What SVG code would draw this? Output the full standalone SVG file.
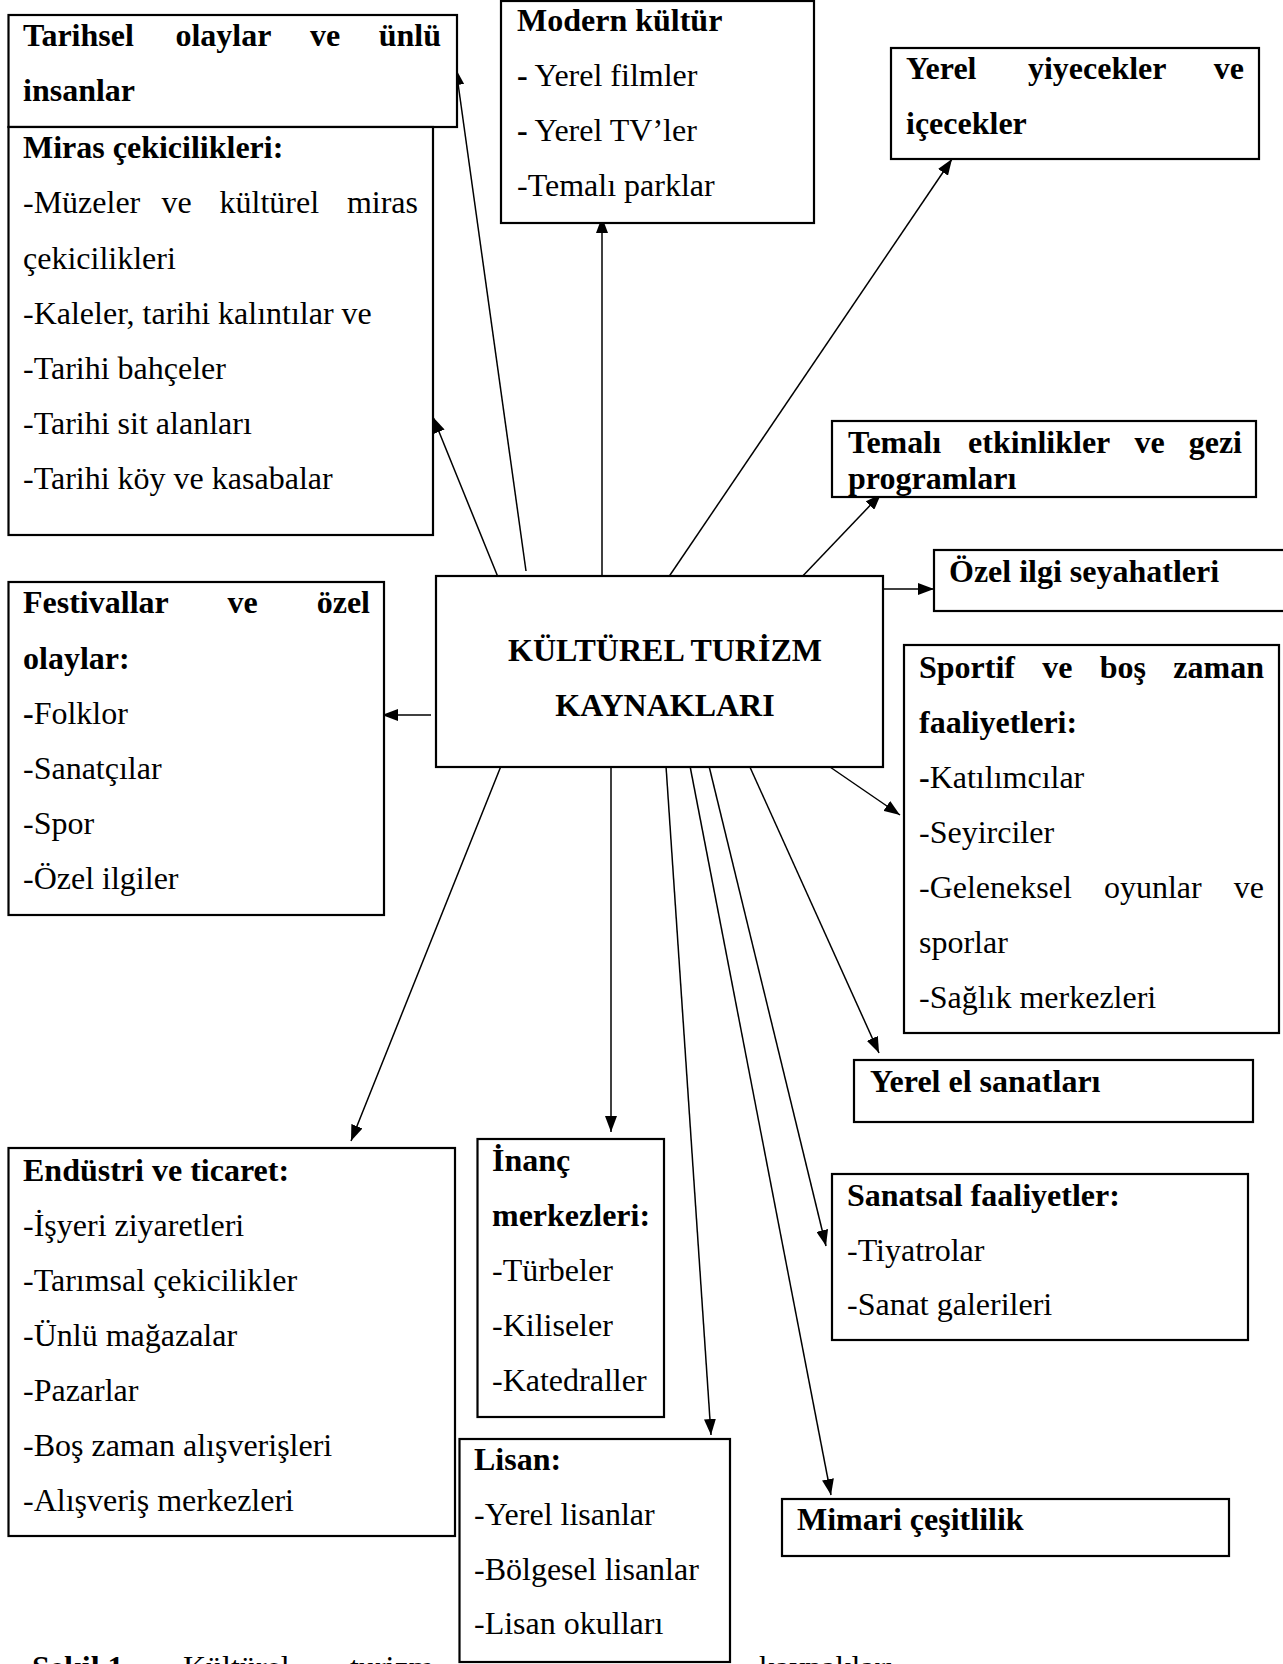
<svg xmlns="http://www.w3.org/2000/svg" width="1283" height="1664" viewBox="0 0 1283 1664">
<style>
text{font-family:"Liberation Serif","Times New Roman",serif;font-size:32px;fill:#000}
.b{font-weight:bold}
.box{fill:#fff;stroke:#000;stroke-width:2.2}
.c{stroke:#000;stroke-width:1.5;fill:none;marker-end:url(#ah)}
</style>
<defs>
<marker id="ah" viewBox="0 0 16 12" markerWidth="16" markerHeight="12" refX="16" refY="6" orient="auto" markerUnits="userSpaceOnUse">
<path d="M0,0 L16,6 L0,12 z" fill="#000"/>
</marker>
</defs>
<rect width="1283" height="1664" fill="#fff"/>

<g id="caption">
<text x="32" y="1678" class="b">Şekil 1.</text>
<text x="183" y="1678">Kültürel</text>
<text x="350" y="1678">turizm</text>
<text x="759" y="1678">kaynakları</text>
</g>

<g id="connectors">
<line class="c" x1="526" y1="571" x2="456" y2="69"/>
<line class="c" x1="502" y1="587" x2="433" y2="417"/>
<line class="c" x1="602" y1="586" x2="602" y2="217"/>
<line class="c" x1="666" y1="581" x2="952" y2="159"/>
<line class="c" x1="798" y1="581" x2="881" y2="494"/>
<line class="c" x1="883" y1="589" x2="934" y2="589"/>
<line class="c" x1="431" y1="715" x2="382" y2="715"/>
<line class="c" x1="830" y1="767" x2="900" y2="815"/>
<line class="c" x1="749" y1="765" x2="879" y2="1053"/>
<line class="c" x1="501" y1="766" x2="351" y2="1141"/>
<line class="c" x1="611" y1="766" x2="611" y2="1132"/>
<line class="c" x1="666" y1="766" x2="711" y2="1435"/>
<line class="c" x1="690" y1="766" x2="831" y2="1495"/>
<line class="c" x1="709" y1="766" x2="826" y2="1246"/>
</g>

<g id="center">
<rect class="box" x="436" y="576" width="447" height="191"/>
<text x="665" y="661" class="b" text-anchor="middle">KÜLTÜREL TURİZM</text>
<text x="665" y="716" class="b" text-anchor="middle">KAYNAKLARI</text>
</g>

<g id="tarihsel">
<rect class="box" x="8.5" y="15" width="448.5" height="112"/>
<text y="46" class="b"><tspan x="23">Tarihsel</tspan><tspan x="175.4">olaylar</tspan><tspan x="310">ve</tspan><tspan x="378.7">ünlü</tspan></text>
<text x="23" y="101" class="b">insanlar</text>
</g>

<g id="miras">
<rect class="box" x="8.5" y="127" width="424.5" height="408"/>
<text x="23" y="158" class="b">Miras çekicilikleri:</text>
<text y="213"><tspan x="23">-Müzeler</tspan><tspan x="161.6">ve</tspan><tspan x="219.5">kültürel</tspan><tspan x="346.9">miras</tspan></text>
<text x="23" y="268.5">çekicilikleri</text>
<text x="23" y="323.5">-Kaleler, tarihi kalıntılar ve</text>
<text x="23" y="379">-Tarihi bahçeler</text>
<text x="23" y="434">-Tarihi sit alanları</text>
<text x="23" y="489">-Tarihi köy ve kasabalar</text>
</g>

<g id="modern">
<rect class="box" x="501" y="1" width="313" height="222"/>
<text x="517" y="31" class="b">Modern kültür</text>
<text x="517" y="86"><tspan class="b">-</tspan> Yerel filmler</text>
<text x="517" y="141"><tspan class="b">-</tspan> Yerel TV’ler</text>
<text x="517" y="196">-Temalı parklar</text>
</g>

<g id="yiyecek">
<rect class="box" x="891" y="48" width="368" height="111"/>
<text y="78.5" class="b"><tspan x="906">Yerel</tspan><tspan x="1027.9">yiyecekler</tspan><tspan x="1213.8">ve</tspan></text>
<text x="906" y="133.5" class="b">içecekler</text>
</g>

<g id="temali">
<rect class="box" x="832" y="421" width="424" height="76"/>
<text y="453" class="b"><tspan x="848">Temalı</tspan><tspan x="968.1">etkinlikler</tspan><tspan x="1134.4">ve</tspan><tspan x="1188.7">gezi</tspan></text>
<text x="848" y="489" class="b">programları</text>
</g>

<g id="ozel">
<rect class="box" x="934" y="550" width="360" height="61"/>
<text x="949" y="581.5" class="b">Özel ilgi seyahatleri</text>
</g>

<g id="sportif">
<rect class="box" x="904" y="645" width="375" height="388"/>
<text y="678" class="b"><tspan x="919">Sportif</tspan><tspan x="1042.3">ve</tspan><tspan x="1099.8">boş</tspan><tspan x="1173.3">zaman</tspan></text>
<text x="919" y="733" class="b">faaliyetleri:</text>
<text x="919" y="787.5"><tspan class="b">-</tspan>Katılımcılar</text>
<text x="919" y="842.5">-Seyirciler</text>
<text y="898"><tspan x="919">-Geleneksel</tspan><tspan x="1103.9">oyunlar</tspan><tspan x="1233.8">ve</tspan></text>
<text x="919" y="953">sporlar</text>
<text x="919" y="1008">-Sağlık merkezleri</text>
</g>

<g id="festival">
<rect class="box" x="8.5" y="582" width="375.5" height="333"/>
<text y="613" class="b"><tspan x="23">Festivallar</tspan><tspan x="227.6">ve</tspan><tspan x="316.7">özel</tspan></text>
<text x="23" y="668.5" class="b">olaylar:</text>
<text x="23" y="723.5"><tspan class="b">-</tspan>Folklor</text>
<text x="23" y="779">-Sanatçılar</text>
<text x="23" y="834">-Spor</text>
<text x="23" y="888.5">-Özel ilgiler</text>
</g>

<g id="elsanat">
<rect class="box" x="854" y="1060" width="399" height="62"/>
<text x="870" y="1092" class="b">Yerel el sanatları</text>
</g>

<g id="endustri">
<rect class="box" x="8.5" y="1148" width="446.5" height="388"/>
<text x="23" y="1181" class="b">Endüstri ve ticaret:</text>
<text x="23" y="1236">-İşyeri ziyaretleri</text>
<text x="23" y="1290.5">-Tarımsal çekicilikler</text>
<text x="23" y="1345.5">-Ünlü mağazalar</text>
<text x="23" y="1401">-Pazarlar</text>
<text x="23" y="1456">-Boş zaman alışverişleri</text>
<text x="23" y="1511">-Alışveriş merkezleri</text>
</g>

<g id="inanc">
<rect class="box" x="477.5" y="1139" width="186.5" height="278"/>
<text x="492" y="1170.5" class="b">İnanç</text>
<text x="492" y="1225.5" class="b">merkezleri:</text>
<text x="492" y="1281">-Türbeler</text>
<text x="492" y="1336">-Kiliseler</text>
<text x="492" y="1390.5">-Katedraller</text>
</g>

<g id="lisan">
<rect class="box" x="459.5" y="1439" width="270.5" height="223"/>
<text x="474" y="1470" class="b">Lisan:</text>
<text x="474" y="1525">-Yerel lisanlar</text>
<text x="474" y="1579.5">-Bölgesel lisanlar</text>
<text x="474" y="1634">-Lisan okulları</text>
</g>

<g id="sanatsal">
<rect class="box" x="832" y="1174" width="416" height="166"/>
<text x="847" y="1205.5" class="b">Sanatsal faaliyetler:</text>
<text x="847" y="1260.5">-Tiyatrolar</text>
<text x="847" y="1315">-Sanat galerileri</text>
</g>

<g id="mimari">
<rect class="box" x="782" y="1499" width="447" height="57"/>
<text x="797" y="1529.5" class="b">Mimari çeşitlilik</text>
</g>
</svg>
